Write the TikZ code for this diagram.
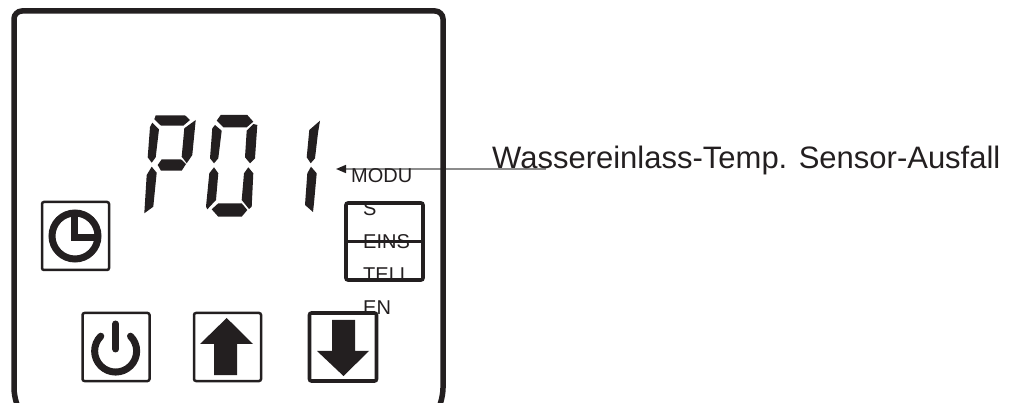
\documentclass[tikz,border=0pt]{standalone}
\usepackage{fontspec}
\setmainfont{Liberation Sans}
\usetikzlibrary{arrows.meta, positioning}
\definecolor{ink}{HTML}{231F20}
\tikzset{
  every node/.style={font=\fontsize{20}{33}\selectfont, text=ink},
  frame/.style={draw=ink, line width=5.5pt},
  keybox/.style={
    draw=ink, rectangle, rounded corners=2pt, line width=2.5pt,
    minimum width=67pt, minimum height=68pt, inner sep=0pt
  },
  thickbox/.style={keybox, line width=3.6pt},
  segm/.style={fill=ink},
  icon/.style={draw=ink, line width=7pt},
  arr/.style={-{Triangle[length=10pt,width=8pt,color=ink]}, draw=black!45, line width=1.6pt},
}
\begin{document}
\begin{tikzpicture}[x=1pt, y=-1pt]
        \useasboundingbox (0,0) rectangle (1015,403);
        % nodes
        \coordinate (tip) at (336,169);
        \coordinate (tail) at (546,169);
        \draw[arr] (tail) -- (tip);
        \draw[frame, rounded corners=8pt] (16.5,403) -- (14,396) -- (14,11) -- (443,11) -- (443,396) -- (440.5,403);
        \node[keybox] (clock) at (75.5,236) {};
        \node[keybox] (power) at (116,347) {};
        \node[keybox] (up) at (227.5,347) {};
        \node[thickbox] (down) at (343,347) {};
        \node[thickbox, minimum width=77pt, minimum height=77pt] (mode) at (384.5,241.5) {};
        \draw[line width=3.2pt, draw=ink] (mode.west) -- (mode.east);
        % digit P
        \fill[segm] (155.7,115.3) -- (185,115.3) -- (190,120) -- (183.3,125.7) -- (161,125.7) -- (154.3,119.3) -- cycle;
        \fill[segm] (152.3,122.7) -- (159,129.3) -- (155.7,157.3) -- (151.7,162.7) -- (147.7,157.3) -- (150,127) -- cycle;
        \fill[segm] (184.3,128.3) -- (195.7,120) -- (192.3,155) -- (186.7,163.3) -- (181.7,156.7) -- cycle;
        \fill[segm] (157.7,165) -- (161.7,159.3) -- (181,159.3) -- (186,164) -- (181.7,170.7) -- (161,170.7) -- cycle;
        \fill[segm] (151.7,166.7) -- (156.7,172.7) -- (153.3,206.7) -- (144.3,213.3) -- (146.7,175) -- cycle;
        % digit 0
        \fill[segm] (220.7,115) -- (247.3,115) -- (253.3,121.7) -- (246.7,127.3) -- (223.3,127.3) -- (216.7,120.7) -- cycle;
        \fill[segm] (215,125) -- (221.7,130.7) -- (218.3,158.3) -- (214,163.3) -- (210,158.3) -- (212.3,128.3) -- cycle;
        \fill[segm] (257.3,125) -- (255,158.3) -- (250,163.3) -- (245,157.3) -- (246.7,130.7) -- (253.3,124) -- cycle;
        \fill[segm] (214,167.3) -- (218.3,173.3) -- (216,200) -- (207.3,209.3) -- (206,206.7) -- (209.3,173.3) -- cycle;
        \fill[segm] (248.3,167.3) -- (253.3,173.3) -- (251.7,206.7) -- (249,209) -- (241.7,200) -- (244,173.3) -- cycle;
        \fill[segm] (218.3,203.3) -- (241.7,203.3) -- (247.3,210) -- (241.7,216.7) -- (218.3,216.7) -- (211.7,209.3) -- cycle;
        % digit 1
        \fill[segm] (320,120.7) -- (318,133) -- (315,158.3) -- (310.7,163.3) -- (306.7,157.3) -- (309.3,130) -- cycle;
        \fill[segm] (311,166.7) -- (316.7,173.3) -- (314,203) -- (313,212) -- (305,205) -- (307.3,173.3) -- cycle;
        % icons
        \draw[icon] (75,236) circle (23pt);
        \draw[icon, line cap=butt] (74,216) -- (74,237.5) -- (97,237.5);
        \draw[icon, line cap=round] (115.7,324) -- (115.7,349);
        \draw[icon, line cap=round] (100.8,336.2) arc[start angle=225, end angle=-45, radius=21];
        \fill[segm] (226.7,318) -- (253,344) -- (237,344) -- (237,375) -- (214,375) -- (214,344) -- (200,344) -- cycle;
        \fill[segm] (332,320) -- (355,320) -- (355,351) -- (369,351) -- (343.5,376) -- (317,351) -- (332,351) -- cycle;
        % labels
        \node[anchor=base west, inner sep=0pt, font=\fontsize{31}{36}\selectfont] (sensor) at (492,168.5) {Wassereinlass-Temp. Sensor-Ausfall};
        \node[anchor=base west, inner sep=0pt] (modetop) at (351,183) {MODU};
        \node[anchor=north west, inner sep=0pt, align=left] (moderest) at (363,201) {S\\EINS\\TELL\\EN};
\end{tikzpicture}
\end{document}
